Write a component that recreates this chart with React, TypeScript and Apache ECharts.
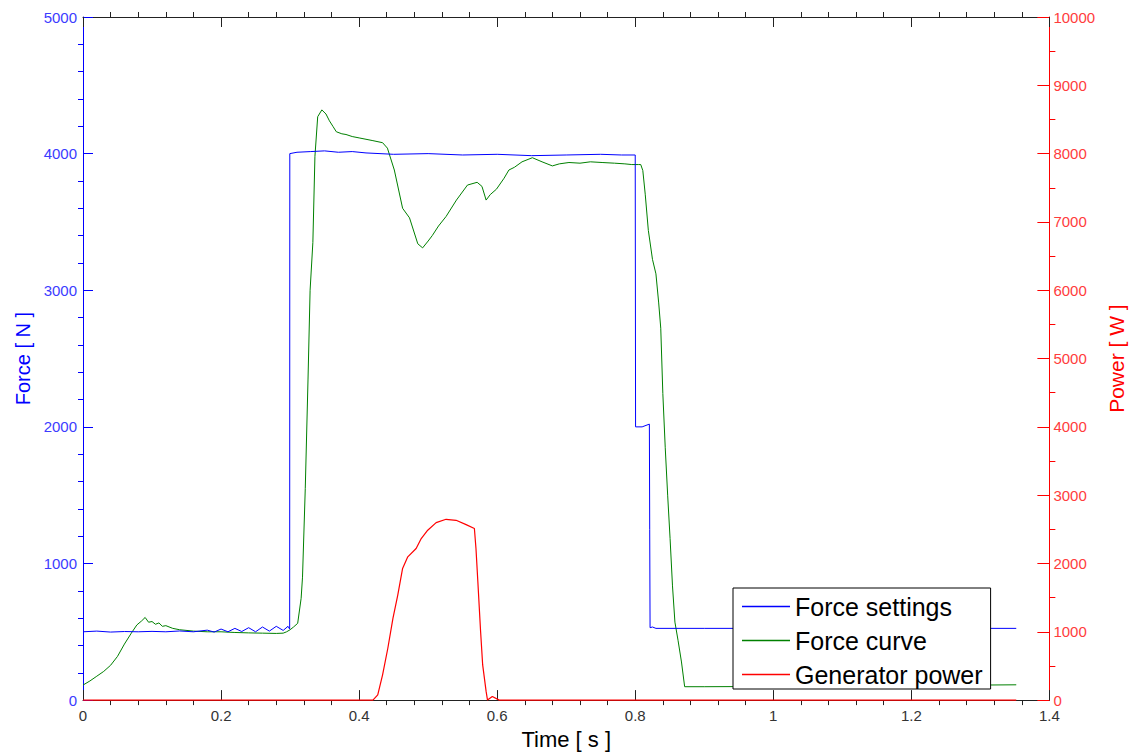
import React, { useEffect, useRef } from "react";
import * as echarts from "echarts";

// ---- Force settings (blue, left axis) ----
const setTime = [0, 0.02, 0.04, 0.06, 0.08, 0.1, 0.12, 0.14, 0.16, 0.18, 0.19, 0.2, 0.21, 0.22, 0.23, 0.24, 0.25, 0.26, 0.27, 0.28, 0.29, 0.297, 0.2994, 0.2996, 0.31, 0.33, 0.35, 0.37, 0.39, 0.41, 0.45, 0.5, 0.55, 0.6, 0.65, 0.7, 0.75, 0.78, 0.8, 0.8005, 0.81, 0.8205, 0.821, 0.8215, 0.825, 0.83, 0.9, 1.0, 1.1, 1.2, 1.3, 1.352];
const setValue = [500, 505, 498, 502, 500, 503, 500, 506, 500, 512, 498, 520, 500, 525, 502, 530, 500, 535, 505, 540, 510, 540, 520, 4000, 4010, 4015, 4020, 4010, 4015, 4005, 3995, 4000, 3990, 3995, 3985, 3990, 3995, 3990, 3990, 2000, 2000, 2020, 1250, 530, 535, 525, 525, 525, 525, 525, 525, 525];

// ---- Force curve (green, left axis) ----
const curveTime = [0, 0.01, 0.02, 0.03, 0.04, 0.05, 0.06, 0.07, 0.078, 0.085, 0.09, 0.095, 0.1, 0.105, 0.11, 0.115, 0.12, 0.13, 0.14, 0.16, 0.18, 0.2, 0.22, 0.24, 0.26, 0.28, 0.29, 0.295, 0.3, 0.305, 0.311, 0.316, 0.318, 0.322, 0.326, 0.329, 0.333, 0.336, 0.34, 0.346, 0.352, 0.357, 0.362, 0.367, 0.375, 0.381, 0.39, 0.4, 0.41, 0.42, 0.434, 0.441, 0.451, 0.463, 0.473, 0.485, 0.492, 0.5, 0.506, 0.515, 0.526, 0.541, 0.557, 0.571, 0.578, 0.584, 0.59, 0.599, 0.61, 0.617, 0.625, 0.636, 0.651, 0.665, 0.68, 0.69, 0.704, 0.72, 0.735, 0.752, 0.77, 0.785, 0.795, 0.805, 0.808, 0.811, 0.8145, 0.819, 0.825, 0.83, 0.834, 0.837, 0.84, 0.8435, 0.847, 0.8505, 0.854, 0.8575, 0.862, 0.867, 0.8716, 0.9, 1.0, 1.1, 1.2, 1.3, 1.352];
const curveValue = [110, 140, 175, 210, 255, 320, 410, 490, 550, 580, 605, 570, 575, 555, 565, 540, 545, 525, 515, 505, 500, 500, 495, 492, 490, 488, 490, 500, 515, 535, 562, 745, 900, 1550, 2350, 3000, 3350, 3980, 4270, 4320, 4290, 4240, 4200, 4160, 4145, 4140, 4125, 4115, 4105, 4095, 4080, 4040, 3880, 3600, 3530, 3340, 3310, 3360, 3400, 3470, 3540, 3660, 3770, 3790, 3760, 3660, 3700, 3740, 3820, 3880, 3900, 3940, 3970, 3940, 3910, 3925, 3935, 3930, 3940, 3935, 3930, 3925, 3920, 3920, 3920, 3876, 3703, 3438, 3226, 3120, 2907, 2722, 2244, 1847, 1500, 1182, 836, 571, 438, 279, 98, 98, 100, 102, 105, 110, 112];

// ---- Generator power (red, right axis) ----
const powerTime = [0, 0.2, 0.42, 0.427, 0.434, 0.4416, 0.449, 0.456, 0.463, 0.4705, 0.4826, 0.49, 0.4994, 0.5116, 0.526, 0.5405, 0.555, 0.567, 0.5693, 0.572, 0.576, 0.579, 0.584, 0.586, 0.593, 0.603, 0.8, 1.0, 1.352];
const powerValue = [0, 0, 0, 77, 370, 759, 1197, 1537, 1927, 2097, 2219, 2365, 2487, 2598, 2647, 2632, 2569, 2511, 2219, 1737, 1003, 515, 127, 0, 54, 0, 0, 0, 0];

const timeTicks = { min: 0, max: 1.4, interval: 0.2 };
const forceTicks = { min: 0, max: 5000, interval: 1000 };
const powerTicks = { min: 0, max: 10000, interval: 1000 };

const seriesNames = ["Force settings", "Force curve", "Generator power"];

const zip = (t: number[], v: number[]) => t.map((x, i) => [x, v[i]]);
const plain = (v: number) => String(v);

const FONT = "Liberation Sans, Arial, sans-serif";

export default function App() {
  const ref = useRef<HTMLDivElement>(null);
  useEffect(() => {
    if (!ref.current) return;
    const chart = echarts.init(ref.current, null, { renderer: "svg" });
    const xCommon = {
      type: "value" as const,
      min: timeTicks.min,
      max: timeTicks.max,
      interval: timeTicks.interval,
      splitLine: { show: false },
      axisLine: { show: true, onZero: false, lineStyle: { color: "#222", width: 1 } },
      axisTick: { show: true, inside: true, length: 10, lineStyle: { color: "#222" } },
      minorTick: { show: true, splitNumber: 5, length: -5, lineStyle: { color: "#222" } },
    };
    chart.setOption({
      animation: false,
      backgroundColor: "#fff",
      textStyle: { fontFamily: FONT },
      grid: { left: 83, right: 84, top: 17, bottom: 53, containLabel: false },
      legend: {
        data: seriesNames.map((n) => ({ name: n, icon: "rect" })),
        orient: "vertical",
        left: 733,
        top: 588,
        backgroundColor: "#fff",
        borderColor: "#000",
        borderWidth: 1,
        borderRadius: 0,
        padding: [6, 8, 2, 9],
        itemWidth: 48,
        itemHeight: 1.5,
        itemGap: 9,
        textStyle: { fontSize: 25, color: "#000", fontFamily: FONT, lineHeight: 25 },
      },
      xAxis: [
        {
          ...xCommon,
          position: "bottom",
          name: "Time [ s ]",
          nameLocation: "middle",
          nameGap: 26,
          nameTextStyle: { fontSize: 22, color: "#000", fontFamily: FONT },
          axisLabel: { show: true, color: "#333", fontSize: 15, margin: 8, fontFamily: FONT, formatter: plain },
        },
        {
          ...xCommon,
          position: "top",
          axisLabel: { show: false },
        },
      ],
      yAxis: [
        {
          type: "value",
          position: "left",
          min: forceTicks.min,
          max: forceTicks.max,
          interval: forceTicks.interval,
          name: "Force [ N ]",
          nameLocation: "middle",
          nameGap: 50,
          nameRotate: 90,
          nameTextStyle: { fontSize: 20, color: "#0000ff", fontFamily: FONT },
          splitLine: { show: false },
          axisLine: { show: true, onZero: false, lineStyle: { color: "#0000ff", width: 1 } },
          axisTick: { show: true, inside: true, length: 10, lineStyle: { color: "#0000ff" } },
          minorTick: { show: true, splitNumber: 5, length: -5, lineStyle: { color: "#0000ff" } },
          axisLabel: { color: "#3c3cff", fontSize: 15, margin: 6, fontFamily: FONT, formatter: plain },
        },
        {
          type: "value",
          position: "right",
          min: powerTicks.min,
          max: powerTicks.max,
          interval: powerTicks.interval,
          name: "Power [ W ]",
          nameLocation: "middle",
          nameGap: 55,
          nameRotate: 90,
          nameTextStyle: { fontSize: 21, color: "#ff0000", fontFamily: FONT },
          splitLine: { show: false },
          axisLine: { show: true, onZero: false, lineStyle: { color: "#ff0000", width: 1 } },
          axisTick: { show: true, inside: true, length: 12, lineStyle: { color: "#ff0000" } },
          minorTick: { show: true, splitNumber: 2, length: -6, lineStyle: { color: "#ff0000" } },
          axisLabel: { color: "#ff3c3c", fontSize: 15, margin: 4, fontFamily: FONT, formatter: plain },
        },
      ],
      series: [
        {
          name: seriesNames[1],
          type: "line",
          xAxisIndex: 0,
          yAxisIndex: 0,
          data: zip(curveTime, curveValue),
          symbol: "none",
          clip: false,
          lineStyle: { color: "#008000", width: 1 },
          itemStyle: { color: "#008000" },
          z: 2,
        },
        {
          name: seriesNames[0],
          type: "line",
          xAxisIndex: 0,
          yAxisIndex: 0,
          data: zip(setTime, setValue),
          symbol: "none",
          clip: false,
          lineStyle: { color: "#0000ff", width: 1 },
          itemStyle: { color: "#0000ff" },
          z: 3,
        },
        {
          name: seriesNames[2],
          type: "line",
          xAxisIndex: 0,
          yAxisIndex: 1,
          data: zip(powerTime, powerValue),
          symbol: "none",
          clip: false,
          lineStyle: { color: "#ff0000", width: 1.2 },
          itemStyle: { color: "#ff0000" },
          z: 4,
        },
      ],
    });
    return () => chart.dispose();
  }, []);
  return (
    <div
      ref={ref}
      style={{ position: "fixed", left: 0, top: 0, width: 1135, height: 755, background: "#fff" }}
    />
  );
}
